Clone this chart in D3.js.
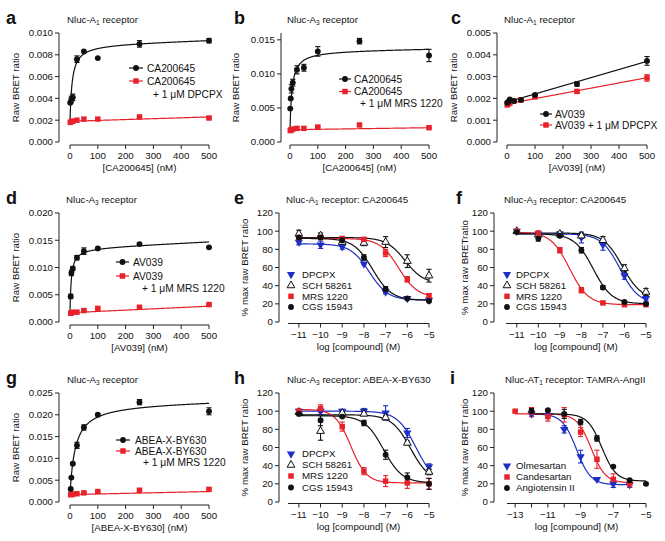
<!DOCTYPE html>
<html><head><meta charset="utf-8">
<script src="https://cdn.jsdelivr.net/npm/d3@7"></script>
<style>
body{margin:0;background:#fff}
text{font-family:"Liberation Sans",Arial,Helvetica,sans-serif;fill:#111}
</style>
</head><body><script>
// ---------------- DATA ----------------
// Saturation panels (concentration in nM, raw BRET ratio)
const aX = [1, 5, 10, 25, 50, 100, 250, 500];
const aBlack = [0.0036, 0.0039, 0.0041, 0.0076, 0.0083, 0.0077, 0.0090, 0.0093];
const aBlackErr = [0.0001, 0.0003, 0.0003, 0.0003, 0, 0, 0.0003, 0.0002];
const aRed = [0.0018, 0.0019, 0.0019, 0.0020, 0.0021, 0.0021, 0.0023, 0.0022];
const aRedErr = [0, 0, 0, 0, 0, 0, 0.0001, 0.0001];
const aFitBlack = [0.00711, 7.9];      // Bmax, Kd
const aFitRed = [0.0019, 8e-7];        // intercept, slope

const bX = [1, 2.5, 5, 10, 25, 50, 100, 250, 500];
const bBlack = [0.0049, 0.0064, 0.0078, 0.0087, 0.0106, 0.0109, 0.0133, 0.0148, 0.0127];
const bBlackErr = [0.0001, 0.0001, 0.0006, 0.0005, 0.0006, 0.0005, 0.0007, 0.0004, 0.0009];
const bRed = [0.0017, 0.0017, 0.0018, 0.0019, 0.0020, 0.0020, 0.0022, 0.0025, 0.0021];
const bRedErr = [0, 0, 0, 0, 0, 0, 0.0001, 0.0001, 0.0001];
const bFitBlack = [0.01167, 7.4];
const bFitRed = [0.0018, 6e-7];

const cX = [1, 5, 10, 25, 50, 100, 250, 500];
const cBlack = [0.0018, 0.00185, 0.00195, 0.00188, 0.00193, 0.00216, 0.00266, 0.00372];
const cBlackErr = [0.00005, 0.00005, 0.00005, 0.00003, 0.00003, 0.00005, 0.0001, 0.0002];
const cRed = [0.0017, 0.00175, 0.00178, 0.00188, 0.00193, 0.00207, 0.00232, 0.00294];
const cRedErr = [0.00005, 0.00005, 0.00003, 0.00003, 0.00003, 0.00005, 0.00005, 0.00015];
const cFitBlack = [0.00183, 3.74e-6];
const cFitRed = [0.00175, 2.4e-6];

const dX = [2.5, 5, 10, 25, 50, 100, 250, 500];
const dBlack = [0.0047, 0.0090, 0.0098, 0.0118, 0.0130, 0.0135, 0.0143, 0.0137];
const dBlackErr = [0.0004, 0.0005, 0.0004, 0.0004, 0.0006, 0.0002, 0.0002, 0.0001];
const dRed = [0.0016, 0.0017, 0.0018, 0.0018, 0.0021, 0.0025, 0.0027, 0.0032];
const dRedErr = [0, 0, 0, 0, 0.0001, 0.0001, 0.0001, 0.0001];
const dFitBlack = [0.0119, 4.65];
const dFitRed = [0.0017, 2.4e-6];

const gX = [2.5, 5, 10, 25, 50, 100, 250, 500];
const gBlack = [0.0030, 0.0056, 0.0088, 0.0130, 0.0171, 0.0200, 0.0229, 0.0208];
const gBlackErr = [0.0002, 0.0002, 0.0002, 0.0007, 0.0006, 0.0002, 0.0006, 0.0008];
const gRed = [0.0017, 0.0017, 0.0018, 0.0019, 0.0021, 0.0024, 0.0027, 0.0029];
const gRedErr = [0, 0, 0, 0, 0.0001, 0.0001, 0.0003, 0.0003];
const gFitBlack = [0.0210, 19];
const gFitRed = [0.0017, 1.4e-6];

// Competition panels (log [compound] (M), % max raw BRET ratio)
const logX = [-11, -10, -9, -8, -7, -6, -5];
const compNames = ["DPCPX", "SCH 58261", "MRS 1220", "CGS 15943"];

const eVals = [[88, 85, 83, 64, 33, 26, 24], [97, 95, 88, 87, 88, 67, 51], [93, 93, 92, 91, 76, 47, 29], [93, 93, 90, 71, 36, 26, 23]];
const eErrs = [[3, 4, 3, 1, 2, 1, 1], [4, 3, 2, 3, 6, 7, 7], [2, 2, 2, 2, 4, 3, 2], [1, 1, 1, 3, 3, 1, 1]];
const eFits = [[86, 24, -7.75, 1], [93, 42, -6.1, 1], [92, 27, -6.4, 1], [92, 24, -7.6, 1]]; // top, bottom, logIC50, hill

const fVals = [[100, 97, 97, 93, 85, 51, 26], [100, 96, 97, 95, 90, 59, 33], [100, 98, 79, 35, 21, 19, 19], [99, 92, 95, 79, 38, 22, 20]];
const fErrs = [[1, 2, 2, 6, 6, 4, 3], [1, 2, 2, 3, 4, 4, 4], [1, 1, 3, 3, 1, 1, 1], [1, 3, 2, 3, 2, 1, 1]];
const fFits = [[97, 20, -6.2, 1], [98, 25, -6.1, 1], [99, 19, -8.55, 1], [97, 20, -7.45, 1]];

const hVals = [[100, 100, 100, 100, 98, 76, 39], [99, 78, 98, 97, 93, 65, 33], [100, 103, 83, 34, 23, 21, 20], [97, 90, 94, 87, 52, 27, 20]];
const hErrs = [[1, 1, 2, 3, 8, 5, 3], [1, 10, 2, 2, 2, 2, 3], [1, 4, 5, 4, 6, 6, 6], [1, 6, 1, 3, 5, 5, 6]];
const hFits = [[100, 20, -5.6, 1], [96, 22, -5.85, 1], [102, 21, -8.6, 1.2], [95, 21, -7.1, 1]];

const iNames = ["Olmesartan", "Candesartan", "Angiotensin II"];
const iXs = [[-12, -11, -10, -9, -8, -7, -6], [-13, -12, -11, -10, -9, -8, -7, -6], [-12, -11, -10, -9, -8, -7, -6, -5]];
const iVals = [[97, 95, 80, 50, 25, 20, 19], [100, 99, 94, 96, 77, 47, 25, 20], [100, 101, 97, 88, 70, 39, 24, 20]];
const iErrs = [[1, 2, 4, 7, 1, 4, 3], [1, 5, 5, 8, 5, 10, 6, 4], [3, 1, 5, 3, 3, 1, 1, 1]];
const iFits = [[97, 19, -9.25, 1], [97, 21, -8.35, 1], [97, 23, -7.7, 1]];

const satTicksA = [0, 0.002, 0.004, 0.006, 0.008, 0.010];
const satTicksB = [0, 0.005, 0.010, 0.015];
const satTicksC = [0, 0.001, 0.002, 0.003, 0.004, 0.005];
const satTicksD = [0, 0.005, 0.010, 0.015, 0.020];
const satTicksG = [0, 0.005, 0.010, 0.015, 0.020, 0.025];
const concTicks = [0, 100, 200, 300, 400, 500];
const pctTicks = [0, 20, 40, 60, 80, 100, 120];
const logTicks = [-11, -10, -9, -8, -7, -6, -5];
const logTicksI = [-13, -12, -11, -10, -9, -8, -7, -6, -5];
const logLabelsI = [-13, -11, -9, -7, -5];

// ---------------- DRAWING ----------------
const BLACK = "#111", RED = "#e8222b", BLUE = "#1e2fc4";
const FS = 9.7;
const svg = d3.select("body").append("svg").attr("width", 665).attr("height", 541);

const symArea = {circle: 27, square: 30, tridown: 30, triopen: 26};
function marker(g, type, x, y, color) {
  let sym = type === "circle" ? d3.symbolCircle : type === "square" ? d3.symbolSquare : d3.symbolTriangle;
  const p = g.append("path").attr("d", d3.symbol().type(sym).size(symArea[type])())
    .attr("transform", `translate(${x},${y})` + (type === "tridown" ? " rotate(180)" : ""));
  if (type === "triopen") p.attr("fill", "#fff").attr("stroke", color).attr("stroke-width", 1);
  else p.attr("fill", color);
}
function fmtMinus(v) { return (v < 0 ? "\u2212" : "") + Math.abs(v); }

function titleText(x, y, parts) {
  const t = svg.append("text").attr("x", x).attr("y", y).attr("font-size", FS);
  t.append("tspan").text(parts[0]);
  t.append("tspan").attr("font-size", 6.5).attr("dy", 2.5).text(parts[1]);
  t.append("tspan").attr("dy", -2.5).text(parts[2]);
}

function frame(o) {
  const g = svg.append("g");
  const x = o.x, y = o.y;
  const [y0, y1] = y.range();
  g.append("line").attr("x1", o.yAxisX).attr("x2", o.yAxisX).attr("y1", y0).attr("y2", y1).attr("stroke", "#222").attr("stroke-width", 1);
  o.yTicks.forEach(v => {
    g.append("line").attr("x1", o.yAxisX - 4).attr("x2", o.yAxisX).attr("y1", y(v)).attr("y2", y(v)).attr("stroke", "#222");
    g.append("text").attr("x", o.yAxisX - 6).attr("y", y(v)).attr("dy", "0.35em").attr("text-anchor", "end").attr("font-size", FS).text(o.yFmt(v));
  });
  const xa = o.xAxisY;
  const [xr0, xr1] = x.range();
  g.append("line").attr("x1", xr0).attr("x2", xr1).attr("y1", xa).attr("y2", xa).attr("stroke", "#222");
  o.xTicks.forEach(v => {
    g.append("line").attr("x1", x(v)).attr("x2", x(v)).attr("y1", xa).attr("y2", xa + 4).attr("stroke", "#222");
  });
  o.xLabels.forEach(v => {
    g.append("text").attr("x", x(v)).attr("y", xa + 11).attr("dy", "0.35em").attr("text-anchor", "middle").attr("font-size", FS).text(o.xFmt(v));
  });
  g.append("text").attr("x", (xr0 + xr1) / 2).attr("y", xa + 23).attr("dy", "0.35em").attr("text-anchor", "middle").attr("font-size", FS).text(o.xTitle);
  g.append("text").attr("transform", `translate(${o.yTitleX},${(y0 + y1) / 2}) rotate(-90)`).attr("dy", "0.35em").attr("text-anchor", "middle").attr("font-size", FS).text(o.yTitle);
  svg.append("text").attr("x", o.letterX).attr("y", o.oy + 24).attr("font-size", 18).attr("font-weight", "bold").text(o.letter);
  titleText(o.titleX, o.oy + 22.5, o.title);
  return g;
}

function errBars(g, xs, ys, es, x, y, color) {
  xs.forEach((xv, i) => {
    const e = es[i]; if (!e) return;
    const px = x(xv), pTop = y(ys[i] + e), pBot = y(ys[i] - e);
    g.append("line").attr("x1", px).attr("x2", px).attr("y1", pTop).attr("y2", pBot).attr("stroke", color).attr("stroke-width", 1.1);
    [pTop, pBot].forEach(py => g.append("line").attr("x1", px - 2.6).attr("x2", px + 2.6).attr("y1", py).attr("y2", py).attr("stroke", color).attr("stroke-width", 1.1));
  });
}

// ----- saturation panels -----
function satPanel(o) {
  const x = d3.scaleLinear().domain([0, 500]).range(o.xr);
  const y = d3.scaleLinear().domain(o.yd).range([o.oy + 142, o.oy + 33]);
  const g = frame(Object.assign({x, y, xAxisY: o.oy + 145, xTicks: concTicks, xLabels: concTicks, xFmt: d => d,
    yFmt: d3.format(".3f"), yTitle: "Raw BRET ratio"}, o));
  const xs = d3.range(0, 500.01, 0.5);
  const redF = v => o.fitRed[0] + o.fitRed[1] * v;
  const blackF = o.linear ? (v => o.fitBlack[0] + o.fitBlack[1] * v)
                          : (v => o.fitBlack[0] * v / (o.fitBlack[1] + v) + redF(v));
  const line = f => d3.line().x(d => x(d)).y(d => y(f(d)))(xs);
  g.append("path").attr("d", line(redF)).attr("fill", "none").attr("stroke", RED).attr("stroke-width", 1.2);
  g.append("path").attr("d", line(blackF)).attr("fill", "none").attr("stroke", BLACK).attr("stroke-width", 1.2);
  errBars(g, o.xs, o.red, o.redErr, x, y, RED);
  errBars(g, o.xs, o.black, o.blackErr, x, y, BLACK);
  o.xs.forEach((xv, i) => marker(g, "square", x(xv), y(o.red[i]), RED));
  o.xs.forEach((xv, i) => marker(g, "circle", x(xv), y(o.black[i]), BLACK));
  const L = o.legend;
  [[BLACK, "circle", o.legendNames[0]], [RED, "square", o.legendNames[1]]].forEach((d, i) => {
    const ly = L.rows[i];
    g.append("line").attr("x1", L.x1).attr("x2", L.x2).attr("y1", ly).attr("y2", ly).attr("stroke", d[0]).attr("stroke-width", 1.2);
    marker(g, d[1], (L.x1 + L.x2) / 2, ly, d[0]);
    g.append("text").attr("x", L.tx).attr("y", ly).attr("dy", "0.35em").attr("font-size", 10.2).text(d[2]);
  });
  if (L.third) g.append("text").attr("x", L.third[0]).attr("y", L.third[1]).attr("dy", "0.35em").attr("font-size", 10.2).text(L.third[2]);
}

satPanel({letter: "a", letterX: 6, titleX: 67, oy: 0, title: ["Nluc-A", "1", " receptor"], yAxisX: 59, yTitleX: 16, xr: [70, 209],
  yd: [0, 0.010], yTicks: satTicksA, xTitle: "[CA200645] (nM)", xs: aX, black: aBlack, blackErr: aBlackErr, red: aRed, redErr: aRedErr,
  fitBlack: aFitBlack, fitRed: aFitRed, legendNames: ["CA200645", "CA200645"],
  legend: {x1: 129, x2: 143, tx: 147, rows: [68, 81], third: [153, 94, "+ 1 \u03bcM DPCPX"]}});
satPanel({letter: "b", letterX: 234, titleX: 287, oy: 0, title: ["Nluc-A", "3", " receptor"], yAxisX: 281, yTitleX: 236, xr: [290, 429],
  yd: [0, 0.016], yTicks: satTicksB, xTitle: "[CA200645] (nM)", xs: bX, black: bBlack, blackErr: bBlackErr, red: bRed, redErr: bRedErr,
  fitBlack: bFitBlack, fitRed: bFitRed, legendNames: ["CA200645", "CA200645"],
  legend: {x1: 339, x2: 351, tx: 354, rows: [79, 91.5], third: [360, 103, "+ 1 \u03bcM MRS 1220"]}});
satPanel({letter: "c", letterX: 451, titleX: 504, oy: 0, title: ["Nluc-A", "1", " receptor"], yAxisX: 497, yTitleX: 454, xr: [507, 647],
  yd: [0, 0.005], yTicks: satTicksC, xTitle: "[AV039] (nM)", xs: cX, black: cBlack, blackErr: cBlackErr, red: cRed, redErr: cRedErr,
  fitBlack: cFitBlack, fitRed: cFitRed, linear: true, legendNames: ["AV039", "AV039 + 1 \u03bcM DPCPX"],
  legend: {x1: 540, x2: 552, tx: 555, rows: [114, 125]}});
satPanel({letter: "d", letterX: 6, titleX: 66, oy: 180, title: ["Nluc-A", "3", " receptor"], yAxisX: 59, yTitleX: 16, xr: [70, 209],
  yd: [0, 0.020], yTicks: satTicksD, xTitle: "[AV039] (nM)", xs: dX, black: dBlack, blackErr: dBlackErr, red: dRed, redErr: dRedErr,
  fitBlack: dFitBlack, fitRed: dFitRed, legendNames: ["AV039", "AV039"],
  legend: {x1: 116, x2: 129, tx: 133, rows: [262, 276], third: [142, 288, "+ 1 \u03bcM MRS 1220"]}});
satPanel({letter: "g", letterX: 6, titleX: 67, oy: 360, title: ["Nluc-A", "3", " receptor"], yAxisX: 59, yTitleX: 16, xr: [70, 209],
  yd: [0, 0.025], yTicks: satTicksG, xTitle: "[ABEA-X-BY630] (nM)", xs: gX, black: gBlack, blackErr: gBlackErr, red: gRed, redErr: gRedErr,
  fitBlack: gFitBlack, fitRed: gFitRed, legendNames: ["ABEA-X-BY630", "ABEA-X-BY630"],
  legend: {x1: 116, x2: 130, tx: 135, rows: [440, 451], third: [143, 462, "+ 1 \u03bcM MRS 1220"]}});

// ----- competition panels -----
const sig = p => v => p[1] + (p[0] - p[1]) / (1 + Math.pow(10, (v - p[2]) * p[3]));
function compPanel(o) {
  const x = d3.scaleLinear().domain(o.xd).range(o.xr);
  const y = d3.scaleLinear().domain([0, 120]).range([o.oy + 142, o.oy + 33]);
  const g = frame(Object.assign({x, y, xAxisY: o.oy + 143.5, yTicks: pctTicks, xFmt: fmtMinus, yFmt: d => d,
    xTitle: "log [compound] (M)"}, o));
  o.series.forEach(s => {
    const xs = d3.range(s.xs[0], s.xs[s.xs.length - 1] + 0.001, 0.02);
    g.append("path").attr("d", d3.line().x(d => x(d)).y(d => y(sig(s.fit)(d)))(xs))
      .attr("fill", "none").attr("stroke", s.color).attr("stroke-width", 1.2);
  });
  o.series.forEach(s => errBars(g, s.xs, s.vals, s.errs, x, y, s.color));
  o.series.forEach(s => s.xs.forEach((xv, i) => marker(g, s.sym, x(xv), y(s.vals[i]), s.color)));
  o.series.forEach((s, i) => {
    const ly = o.legend.rows[i];
    marker(g, s.sym, o.legend.sx, ly, s.color);
    g.append("text").attr("x", o.legend.tx).attr("y", ly).attr("dy", "0.35em").attr("font-size", FS).text(s.name);
  });
}
const compStyle = [[BLUE, "tridown"], [BLACK, "triopen"], [RED, "square"], [BLACK, "circle"]];
function series4(vals, errs, fits) {
  return vals.map((v, i) => ({name: compNames[i], xs: logX, vals: v, errs: errs[i], fit: fits[i], color: compStyle[i][0], sym: compStyle[i][1]}));
}

compPanel({letter: "e", letterX: 234, titleX: 286, oy: 180, title: ["Nluc-A", "1", " receptor: CA200645"], yAxisX: 279, yTitleX: 245,
  yTitle: "% max raw BRET ratio", xd: [-11.5, -5], xr: [288, 429], xTicks: logTicks, xLabels: logTicks,
  series: series4(eVals, eErrs, eFits), legend: {sx: 291, tx: 302, rows: [274.5, 285.5, 296.3, 307]}});
compPanel({letter: "f", letterX: 456, titleX: 504, oy: 180, title: ["Nluc-A", "3", " receptor: CA200645"], yAxisX: 494, yTitleX: 465,
  yTitle: "% max raw BRETratio", xd: [-11.5, -5], xr: [506, 646], xTicks: logTicks, xLabels: logTicks,
  series: series4(fVals, fErrs, fFits), legend: {sx: 507, tx: 516, rows: [274.5, 285.5, 296.3, 307]}});
compPanel({letter: "h", letterX: 234, titleX: 287, oy: 360, title: ["Nluc-A", "3", " receptor: ABEA-X-BY630"], yAxisX: 279, yTitleX: 245,
  yTitle: "% max raw BRET ratio", xd: [-11.5, -5], xr: [288, 429], xTicks: logTicks, xLabels: logTicks,
  series: series4(hVals, hErrs, hFits), legend: {sx: 291, tx: 302, rows: [454, 465, 476, 487.5]}});
const iStyle = [[BLUE, "tridown"], [RED, "square"], [BLACK, "circle"]];
compPanel({letter: "i", letterX: 450, titleX: 505, oy: 360, title: ["Nluc-AT", "1", " receptor: TAMRA-AngII"], yAxisX: 494, yTitleX: 465,
  yTitle: "% max raw BRET ratio", xd: [-13.5, -5], xr: [507, 646], xTicks: logTicksI, xLabels: logLabelsI,
  series: iVals.map((v, i) => ({name: iNames[i], xs: iXs[i], vals: v, errs: iErrs[i], fit: iFits[i], color: iStyle[i][0], sym: iStyle[i][1]})),
  legend: {sx: 507, tx: 516, rows: [466, 477, 488]}});
</script></body></html>
